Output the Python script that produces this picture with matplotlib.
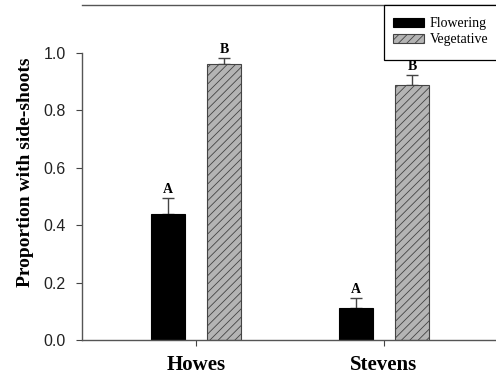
import numpy as np
import matplotlib
matplotlib.use("Agg")
import matplotlib.pyplot as plt
from matplotlib.patches import Rectangle

# data
sites = ["Howes", "Stevens"]
flowering = [0.44, 0.11]
flowering_err = [0.055, 0.037]
vegetative = [0.96, 0.89]
vegetative_err = [0.022, 0.033]
flowering_letters = ["A", "A"]
vegetative_letters = ["B", "B"]

plt.rcParams["hatch.linewidth"] = 0.6
plt.rcParams["hatch.color"] = "#3a3a3a"

fig = plt.figure(figsize=(4.96, 3.76), dpi=100)
ax = fig.add_axes([82.3 / 496, 1 - 340 / 376, 1 - 82.3 / 496, (340 - 5) / 376])

x = np.arange(len(sites))
w = 0.181
off = 0.149

ax.bar(x - off, flowering, w, color="black", edgecolor="black", linewidth=0.8,
       label="Flowering", zorder=2)
ax.bar(x + off, vegetative, w, color="#b4b4b4", edgecolor="#444444", linewidth=0.8,
       hatch="////", label="Vegetative", zorder=2)

ekw = dict(fmt="none", ecolor="#444444", elinewidth=1.0, capsize=4, capthick=1.0, zorder=1)
ax.errorbar(x - off, flowering, yerr=[np.zeros(2), flowering_err], **ekw)
ax.errorbar(x + off, vegetative, yerr=[np.zeros(2), vegetative_err], **ekw)

for xi, v, e, t in zip(x - off, flowering, flowering_err, flowering_letters):
    ax.text(xi, v + e + 0.007, t, ha="center", va="bottom", fontsize=10,
            fontweight="bold", family="Liberation Serif")
for xi, v, e, t in zip(x + off, vegetative, vegetative_err, vegetative_letters):
    ax.text(xi, v + e + 0.007, t, ha="center", va="bottom", fontsize=10,
            fontweight="bold", family="Liberation Serif")

ax.set_xlim(-0.605, 1.596)
ax.set_ylim(0, 1.167)
ax.set_yticks([0.0, 0.2, 0.4, 0.6, 0.8, 1.0])
ax.set_yticklabels(["0.0", "0.2", "0.4", "0.6", "0.8", "1.0"],
                   family="Liberation Sans", fontsize=11.5, color="#222222")
ax.set_xticks(x)
ax.set_xticklabels(sites, family="Liberation Serif", fontweight="bold", fontsize=15)
ax.tick_params(axis="both", direction="out", length=4, width=0.8, color="#444444")
ax.tick_params(axis="y", pad=8)
ax.tick_params(axis="x", pad=7)

ax.spines["right"].set_visible(False)
ax.spines["left"].set_bounds(0, 1.0)
for s in ["left", "bottom", "top"]:
    ax.spines[s].set_color("#555555")
    ax.spines[s].set_linewidth(1.0)

ax.set_ylabel("Proportion with side-shoots", family="Liberation Serif",
              fontweight="bold", fontsize=14, labelpad=7)

# legend box: frame runs off the right edge of the figure, like the original
fig.patches.append(Rectangle((384 / 496, 1 - 60 / 376), 0.3, 55 / 376,
                             transform=fig.transFigure, facecolor="white",
                             edgecolor="black", linewidth=0.9, zorder=0))
leg = fig.legend(loc="upper left", bbox_to_anchor=(393 / 496, 1 - 17 / 376),
                 frameon=False, prop={"family": "Liberation Serif", "size": 10},
                 handlelength=2.2, handleheight=0.6, handletextpad=0.45,
                 borderpad=0, labelspacing=0.25, borderaxespad=0)

fig.savefig("out.png", dpi=100)
